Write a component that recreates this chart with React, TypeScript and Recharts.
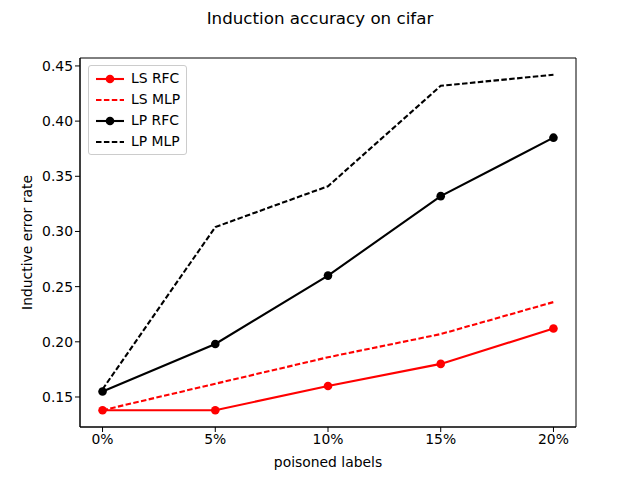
import { LineChart, Line, XAxis, YAxis, ReferenceArea } from 'recharts';

const xLabels = ['0%', '5%', '10%', '15%', '20%'];
const lsRfc = [0.138, 0.138, 0.160, 0.180, 0.212];
const lsMlp = [0.138, 0.162, 0.186, 0.207, 0.236];
const lpRfc = [0.155, 0.198, 0.260, 0.332, 0.385];
const lpMlp = [0.157, 0.304, 0.341, 0.432, 0.442];
const yTicks = [0.15, 0.2, 0.25, 0.3, 0.35, 0.4, 0.45];

const data = xLabels.map((label, i) => ({
    x: i,
    label,
    lsRfc: lsRfc[i],
    lsMlp: lsMlp[i],
    lpRfc: lpRfc[i],
    lpMlp: lpMlp[i],
}));

const series = [
    { key: 'lsRfc', name: 'LS RFC', color: '#ff0000', dashed: false, dot: true },
    { key: 'lsMlp', name: 'LS MLP', color: '#ff0000', dashed: true, dot: false },
    { key: 'lpRfc', name: 'LP RFC', color: '#000000', dashed: false, dot: true },
    { key: 'lpMlp', name: 'LP MLP', color: '#000000', dashed: true, dot: false },
];

const font = '"DejaVu Sans", sans-serif';
const dash = '5.5 2.4';
const xDomain = [-0.2, 4.2];
const yDomain = [0.1228, 0.4572];

function LegendBox() {
    return (
        <div
            style={{
                position: 'absolute',
                left: 88,
                top: 65,
                border: '1px solid #cccccc',
                borderRadius: 3,
                background: 'rgba(255,255,255,0.8)',
                padding: '2px 6px 2px 6px',
                fontFamily: font,
                fontSize: 13.9,
                lineHeight: '21px',
                zIndex: 2,
            }}
        >
            {series.map((s) => (
                <div key={s.key} style={{ display: 'flex', alignItems: 'center', height: 21 }}>
                    <svg width={36} height={21}>
                        <line
                            x1={1}
                            y1={11}
                            x2={29}
                            y2={11}
                            stroke={s.color}
                            strokeWidth={2.1}
                            strokeDasharray={s.dashed ? dash : undefined}
                        />
                        {s.dot && <circle cx={15} cy={11} r={4.3} fill={s.color} />}
                    </svg>
                    <span>{s.name}</span>
                </div>
            ))}
        </div>
    );
}

// rotated y label, centred on the plot height
function YLabel(props: any) {
    const { viewBox } = props;
    const cx = 27;
    const cy = viewBox.y + viewBox.height / 2;
    return (
        <text
            x={cx}
            y={cy}
            transform={`rotate(-90 ${cx} ${cy})`}
            textAnchor="middle"
            dominantBaseline="central"
            fill="#000"
            fontFamily={font}
            fontSize={13.9}
        >
            Inductive error rate
        </text>
    );
}

export default function App() {
    return (
        <div style={{ position: 'absolute', left: 0, top: 0, width: 640, height: 480, background: '#fff' }}>
            <div
                style={{
                    position: 'absolute',
                    top: 8,
                    width: 640,
                    textAlign: 'center',
                    fontFamily: font,
                    fontSize: 16.7,
                }}
            >
                Induction accuracy on cifar
            </div>
            <LineChart width={640} height={480} data={data} margin={{ top: 58, right: 64, left: 0, bottom: 0 }}>
                <XAxis
                    dataKey="x"
                    type="number"
                    domain={xDomain}
                    ticks={[0, 1, 2, 3, 4]}
                    tickFormatter={(v) => xLabels[v]}
                    height={53}
                    stroke="#000"
                    tickSize={5}
                    tick={{ fill: '#000', fontFamily: font, fontSize: 13.9 }}
                    label={{ value: 'poisoned labels', position: 'insideBottom', offset: 13, fill: '#000', fontFamily: font, fontSize: 13.9 }}
                />
                <YAxis
                    type="number"
                    domain={yDomain}
                    ticks={yTicks}
                    tickFormatter={(v) => v.toFixed(2)}
                    width={80}
                    stroke="#000"
                    tickSize={5}
                    tick={{ fill: '#000', fontFamily: font, fontSize: 13.9 }}
                    label={<YLabel />}
                />
                <ReferenceArea x1={xDomain[0]} x2={xDomain[1]} y1={yDomain[0]} y2={yDomain[1]} fill="none" stroke="#000" strokeWidth={1} />
                {series.map((s) => (
                    <Line
                        key={s.key}
                        dataKey={s.key}
                        name={s.name}
                        type="linear"
                        stroke={s.color}
                        strokeWidth={2.1}
                        strokeDasharray={s.dashed ? dash : undefined}
                        dot={s.dot ? { r: 4.3, fill: s.color, stroke: s.color, strokeWidth: 0 } : false}
                        activeDot={false}
                        isAnimationActive={false}
                    />
                ))}
            </LineChart>
            <LegendBox />
        </div>
    );
}
